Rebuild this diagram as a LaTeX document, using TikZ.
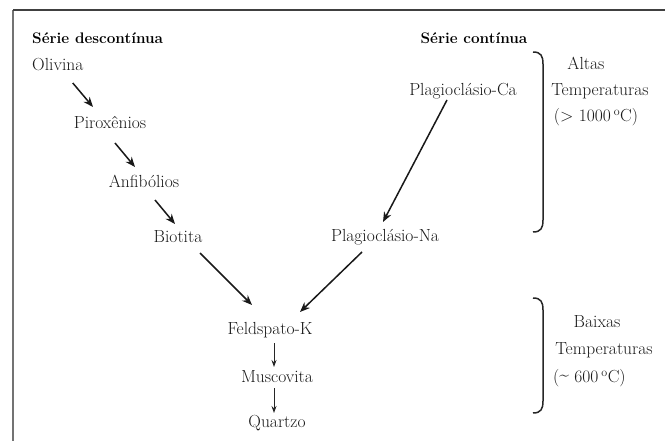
\documentclass[tikz,border=0pt]{standalone}
\usetikzlibrary{arrows.meta,calc}
\begin{document}
\begin{tikzpicture}[x=1pt,y=-1pt,
  txt/.style={inner sep=0pt,text=black!90,font=\fontsize{17.5}{21}\selectfont},
  head/.style={inner sep=0pt,text=black,font=\fontsize{15.3}{18}\selectfont\bfseries},
  arr/.style={line width=1.5pt,black!90,-{Stealth[length=10pt,width=8pt]}},
  sarr/.style={line width=0.9pt,black!85,-{Stealth[length=7pt,width=5pt]}},
  brc/.style={line width=1.5pt,black!85}]
\useasboundingbox (0,0) rectangle (665,441);
% frame
\draw[black!55,line width=1.3pt] (13,441) -- (13,10);
\draw[black!75,line width=1.3pt] (13,10) -- (665,10);
% headings
\node[head,anchor=west] (sd) at (32,38) {Série descontínua};
\node[head] (sc) at (474,38) {Série contínua};
% discontinuous series
\node[txt,anchor=west] (oli) at (32,65) {Olivina};
\node[txt] (pir) at (110,123) {Piroxênios};
\node[txt] (anf) at (144,181) {Anfibólios};
\node[txt] (bio) at (178,237) {Biotita};
% continuous series
\node[txt] (pca) at (463,91) {Plagioclásio-Ca};
\node[txt] (pna) at (385,237) {Plagioclásio-Na};
% common
\node[txt] (fk) at (270,330) {Feldspato-K};
\node[txt] (mus) at (277,377) {Muscovita};
\node[txt] (qtz) at (277,423) {Quartzo};
% temperature labels
\node[txt] (alt) at (586,63) {Altas};
\node[txt] (t1) at (600,91) {Temperaturas};
\node[txt] (c1) at (596,117) {(> 1000\,$^{\mathrm{o}}$C)};
\node[txt] (bai) at (597,322) {Baixas};
\node[txt] (t2) at (604,350) {Temperaturas};
\node[txt,anchor=west] (c2) at (553,378) {(\raisebox{0.3ex}{\textasciitilde} 600\,$^{\mathrm{o}}$C)};
% arrows
\draw[arr] ($(oli.center)+(15,18)$) -- ($(pir.center)+(-17,-16)$);
\draw[arr] ($(pir.center)+(5,20)$) -- ($(anf.center)+(-9,-14)$);
\draw[arr] ($(anf.center)+(11,19)$) -- ($(bio.center)+(-3,-13)$);
\draw[arr] ($(bio.center)+(22,16)$) -- ($(fk.center)+(-18,-25)$);
\draw[arr] ($(pna.center)+(-23,15)$) -- ($(fk.center)+(30,-18)$);
\draw[arr] ($(pca.center)+(-16,9)$) -- ($(pna.center)+(-2,-15)$);
\draw[sarr] ($(fk.center)+(4,13)$) -- ($(mus.center)+(-3,-10)$);
\draw[sarr] ($(mus.center)+(-3,11)$) -- ($(qtz.center)+(-3,-10)$);
% braces
\draw[brc] (533,52) .. controls (541,52) and (543,56) .. (543,64) -- (543,220) .. controls (543,228) and (541,232) .. (533,232);
\draw[brc] (533,298) .. controls (541,298) and (543,302) .. (543,310) -- (543,401) .. controls (543,409) and (541,413) .. (533,413);
\end{tikzpicture}
\end{document}
